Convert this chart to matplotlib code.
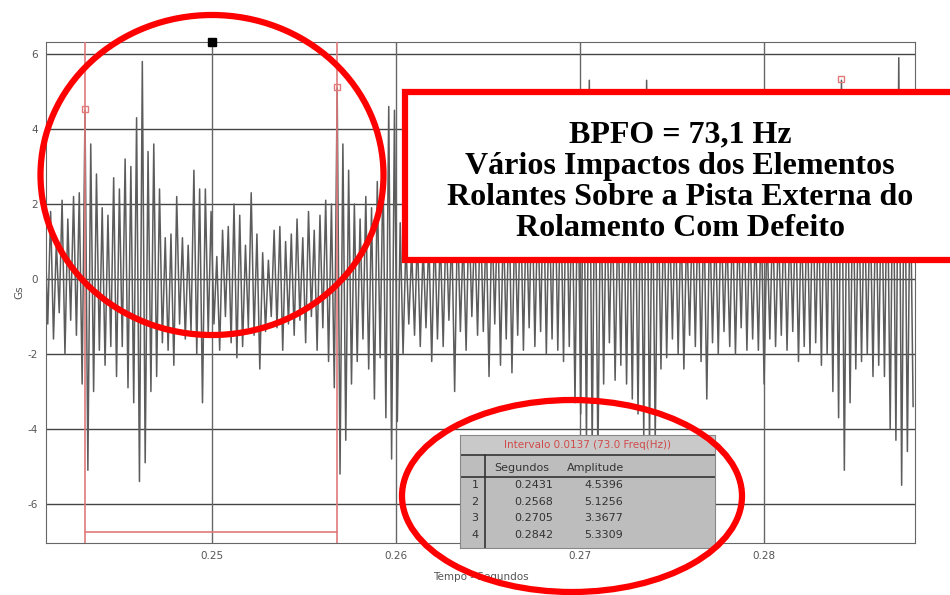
import matplotlib.pyplot as plt
import numpy as np
from matplotlib.patches import Ellipse, Rectangle

plt.rcParams['axes.unicode_minus'] = False

# waveform: one positive and one negative peak per cycle
t_start = 0.24092      # s, first sample
cycle = 0.0003114      # s, spacing between peaks
hi = [1.5, 1.8, 1.0, 2.1, 1.6, 2.2, 2.3,
      4.5, 3.6, 2.8, 1.9, 1.7, 2.7, 2.4, 3.2, 3.0, 4.3, 5.8,
      3.4, 3.6, 2.4, 1.1, 1.2, 2.2, 1.1, 0.9, 2.9, 2.4, 2.4, 1.8,
      0.6, 1.3, 1.4, 2.0, 1.7, 0.9, 2.3, 1.2, 0.7, 0.5,
      1.3, 1.4, 1.0, 1.2, 1.6, 1.1, 1.8, 1.3, 1.7, 2.1, 2.0,
      5.1, 3.6, 2.9, 2.0, 1.6, 2.2, 1.9, 2.6, 3.0, 4.6, 4.5,
      1.5, 1.0, 0.8, 1.2, 0.9, 1.1, 1.4, 1.2, 1.6, 1.3,
      1.7, 1.2, 1.8, 1.4, 1.9, 1.5, 1.8, 2.0, 1.6, 2.1,
      1.7, 2.2, 1.9, 2.4, 2.0, 2.6, 2.2, 2.8, 2.5, 3.1, 2.7,
      3.5, 4.0, 5.3, 3.9, 3.0, 2.6, 2.3, 2.0, 2.5,
      2.4, 2.9, 3.4, 5.3, 3.2, 2.6, 2.1, 1.8, 2.0, 1.7,
      1.5, 1.9, 2.2, 2.0, 1.8, 1.6, 1.9, 1.4, 1.7, 1.5,
      1.9, 1.6, 1.3, 1.8, 1.4, 1.7, 1.5, 1.9, 1.6, 2.0,
      1.8, 2.1, 2.4, 2.0, 2.6, 3.0, 3.6, 5.3, 4.2, 2.9,
      2.5, 2.4, 2.3, 2.5, 2.9, 3.3, 4.0, 5.9, 4.6, 3.0]
lo = [-1.2, -1.6, -0.9, -2.0, -1.1, -1.5, -2.8,
      -5.1, -3.0, -1.9, -2.3, -1.8, -2.6, -1.8, -2.9, -3.3, -5.4, -4.9,
      -3.0, -2.6, -1.7, -1.9, -2.3, -1.2, -1.6, -1.4, -2.0, -3.3, -1.5, -1.2,
      -1.9, -1.0, -1.7, -2.1, -1.8, -1.3, -1.5, -2.4, -1.4, -1.0,
      -1.3, -1.9, -1.2, -1.5, -1.1, -1.7, -1.0, -1.9, -1.3, -2.2, -2.9,
      -5.2, -4.3, -2.8, -2.2, -1.6, -2.4, -3.2, -2.1, -3.7, -4.8, -3.8,
      -2.0, -1.2, -1.5, -1.8, -1.3, -2.2, -1.6, -1.8, -1.1, -3.0,
      -1.4, -1.9, -1.0, -1.5, -1.4, -2.6, -1.2, -2.3, -1.6, -2.5,
      -1.5, -1.9, -1.3, -1.8, -1.4, -2.0, -1.6, -1.9, -2.2, -1.8, -3.3,
      -3.6, -4.3, -4.5, -4.8, -2.8, -1.7, -2.7, -2.3, -2.8,
      -3.2, -3.6, -4.2, -4.4, -4.3, -2.4, -2.1, -1.6, -2.0, -2.4,
      -1.5, -1.8, -2.2, -3.2, -1.7, -2.0, -1.4, -1.8, -2.0, -1.3,
      -1.9, -1.6, -1.9, -2.8, -1.6, -1.8, -1.5, -1.9, -1.4, -2.2,
      -1.8, -2.0, -1.7, -2.3, -2.0, -3.0, -3.7, -5.1, -3.3, -2.4,
      -2.2, -2.0, -2.6, -2.3, -2.6, -4.0, -4.3, -5.5, -4.6, -3.4]

# cursor table
cursor_n = ['1', '2', '3', '4']
cursor_t = [0.2431, 0.2568, 0.2705, 0.2842]
cursor_amp = [4.5396, 5.1256, 3.3677, 5.3309]
table_title = 'Intervalo 0.0137 (73.0 Freq(Hz))'

xticks = [0.25, 0.26, 0.27, 0.28]
yticks = [-6, -4, -2, 0, 2, 4, 6]

note = ('BPFO = 73,1 Hz\nVários Impactos dos Elementos\n'
        'Rolantes Sobre a Pista Externa do\nRolamento Com Defeito')

n = len(hi)
t = np.empty(2 * n)
y = np.empty(2 * n)
t[0::2] = t_start + np.arange(n) * cycle
t[1::2] = t_start + (np.arange(n) + 0.5) * cycle
y[0::2] = hi
y[1::2] = lo

W, H = 950, 595
fig = plt.figure(figsize=(9.5, 5.95), dpi=100)
ax = fig.add_axes([46 / W, 1 - 543 / H, (915 - 46) / W, (543 - 42) / H])

ax.plot(t, y, color='#5c5c5c', lw=1.1, zorder=2)
ax.set_xlim(0.24098, 0.2882)
ax.set_ylim(-7.04, 6.32)

for v in yticks:
    ax.axhline(v, color='#444444', lw=1.0, zorder=1)
for v in xticks:
    ax.axvline(v, color='#666666', lw=1.0, zorder=1)

ax.set_xticks(xticks)
ax.set_xticklabels(['%.2f' % v for v in xticks])
ax.set_yticks(yticks)
ax.tick_params(length=0, labelsize=7.5, labelcolor='#555555', pad=6)
for s in ax.spines.values():
    s.set_color('#666666')
ax.set_xlabel('Tempo - Segundos', fontsize=7.5, color='#555555', labelpad=8)
ax.set_ylabel('Gs', fontsize=7.5, color='#555555', labelpad=2)

# cursors
pink = '#e07a7a'
ax.axvline(cursor_t[0], color=pink, lw=1.2, zorder=3)
ax.axvline(cursor_t[1], color=pink, lw=1.2, zorder=3)
ax.plot([cursor_t[0], cursor_t[1]], [-6.75, -6.75], color=pink, lw=1.2, zorder=3)
ax.plot(cursor_t, cursor_amp, 's', ms=4, mfc='none', mec=pink, zorder=4)
ax.plot([0.25], [6.32], 's', ms=6, color='black', clip_on=False, zorder=5)

# red circles
fig.patches.append(Ellipse((212 / W, 1 - 175 / H), 343 / W, 320 / H,
                           transform=fig.transFigure, fill=False,
                           edgecolor='#ff0000', lw=4.5, zorder=10))
fig.patches.append(Ellipse((572 / W, 1 - 496 / H), 340 / W, 192 / H,
                           transform=fig.transFigure, fill=False,
                           edgecolor='#ff0000', lw=4.5, zorder=10))

# note box
fig.patches.append(Rectangle((405 / W, 1 - 260 / H), 600 / W, 168 / H,
                             transform=fig.transFigure, facecolor='white',
                             edgecolor='#ff0000', lw=4.5, zorder=6))
fig.text(680 / W, 1 - 182 / H, note, ha='center', va='center',
         family='Liberation Serif', weight='bold', fontsize=23,
         linespacing=1.1, zorder=7)

# cursor table
tb = fig.add_axes([460 / W, 1 - 548 / H, 255 / W, 113 / H], zorder=8)
tb.set_xlim(0, 255)
tb.set_ylim(113, 0)
tb.set_xticks([])
tb.set_yticks([])
tb.set_facecolor('#bdbdbd')
for s in tb.spines.values():
    s.set_color('#888888')
tb.add_patch(Rectangle((0, 0), 255, 20, facecolor='#c9c9c9', edgecolor='none'))
tb.text(127, 10, table_title, ha='center', va='center', fontsize=7.5, color='#d04a4a')
tb.plot([0, 255], [20, 20], color='#333333', lw=1.2)
tb.plot([0, 255], [42, 42], color='#333333', lw=1.2)
tb.plot([25, 25], [20, 113], color='#333333', lw=1.2)
tb.text(62, 33, 'Segundos', ha='center', va='center', fontsize=8, color='#333333')
tb.text(136, 33, 'Amplitude', ha='center', va='center', fontsize=8, color='#333333')
for i in range(len(cursor_n)):
    yy = 50 + i * 16.7
    tb.text(15, yy, cursor_n[i], ha='center', va='center', fontsize=8, color='#333333')
    tb.text(93, yy, '%.4f' % cursor_t[i], ha='right', va='center', fontsize=8, color='#333333')
    tb.text(163, yy, '%.4f' % cursor_amp[i], ha='right', va='center', fontsize=8, color='#333333')

fig.savefig('out.png', dpi=100)
